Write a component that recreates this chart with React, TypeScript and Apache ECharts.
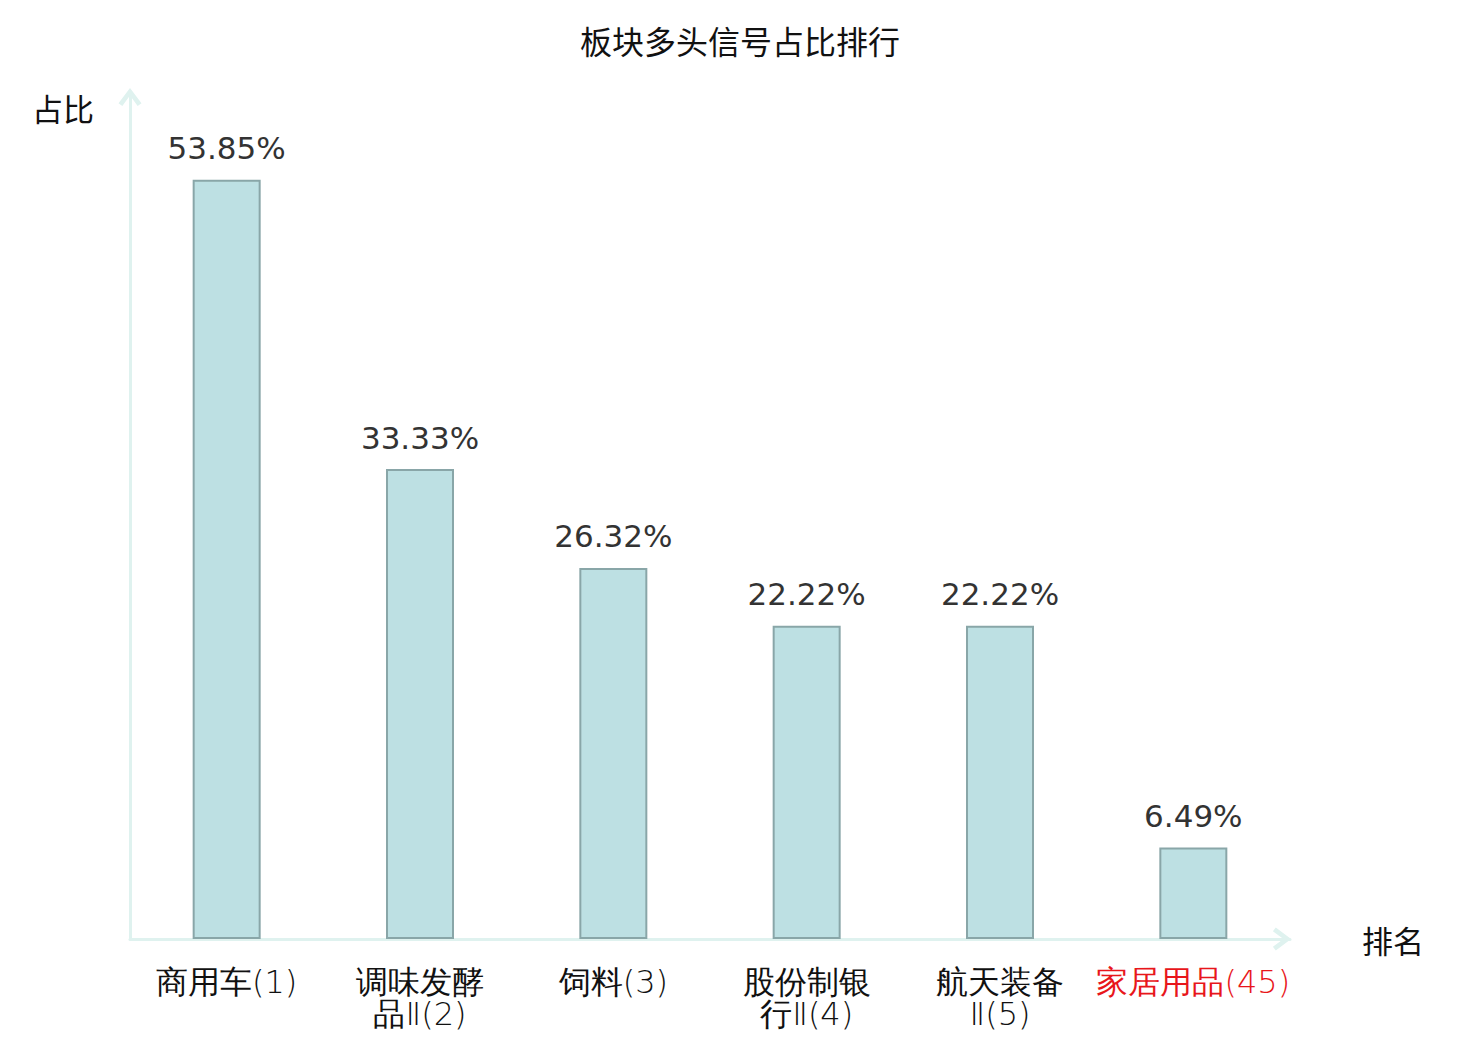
import React, { useEffect, useRef } from "react";
import * as echarts from "echarts";

const categories = [
  "商用车(1)",
  "调味发酵\n品Ⅱ(2)",
  "饲料(3)",
  "股份制银\n行Ⅱ(4)",
  "航天装备\nⅡ(5)",
  "家居用品(45)",
];
const values = [53.85, 33.33, 26.32, 22.22, 22.22, 6.49];
const highlightIndex = 5;

const chevron = "path://M12,0 L24,16 L20,19 L12,8 L4,19 L0,16 Z";

export default function App() {
  const ref = useRef<HTMLDivElement>(null);
  useEffect(() => {
    if (!ref.current) return;
    const chart = echarts.init(ref.current, undefined, { renderer: "svg" });
    const cjk = "'Noto Sans CJK SC', sans-serif";
    const axisLine = (offset: number) => ({
      show: true,
      symbol: ["none", chevron],
      symbolSize: [23, 20],
      symbolOffset: [0, offset],
      lineStyle: { color: "#dff2ef", width: 3 },
    });
    chart.setOption({
      animation: false,
      title: {
        text: "板块多头信号占比排行",
        left: "center",
        top: 19,
        textStyle: { fontSize: 32, fontWeight: "normal", color: "#111", fontFamily: cjk },
      },
      grid: { left: 130, right: 190, top: 93, bottom: 101, containLabel: false },
      xAxis: {
        type: "category",
        data: categories,
        name: "排名",
        nameGap: 72,
        nameTextStyle: { fontSize: 31, color: "#111", fontFamily: cjk, verticalAlign: "middle" },
        axisLine: axisLine(-8),
        axisTick: { show: false },
        axisLabel: {
          interval: 0,
          margin: 27,
          fontSize: 32,
          lineHeight: 32,
          fontWeight: 200,
          fontFamily: "'DejaVu Sans'",
          color: (_v: string, i: number) => (i === highlightIndex ? "#e8161b" : "#111"),
        },
      },
      yAxis: {
        type: "value",
        min: 0,
        max: 60,
        name: "占比",
        nameLocation: "end",
        nameGap: -20,
        nameTextStyle: { fontSize: 31, color: "#111", fontFamily: cjk, align: "right", padding: [0, 36, -10, 0] },
        axisLine: axisLine(-4),
        axisTick: { show: false },
        axisLabel: { show: false },
        splitLine: { show: false },
      },
      series: [
        {
          type: "bar",
          data: values,
          barWidth: 68,
          itemStyle: { color: "#bde0e3", borderColor: "#89a6a8", borderWidth: 2 },
          label: {
            show: true,
            position: "top",
            distance: 16,
            formatter: (p: any) => p.value.toFixed(2) + "%",
            fontSize: 31,
            color: "#333",
            fontFamily: "'DejaVu Sans', sans-serif",
          },
        },
      ],
    });
    return () => chart.dispose();
  }, []);
  return <div ref={ref} style={{ width: 1480, height: 1040, margin: -8 }} />;
}
